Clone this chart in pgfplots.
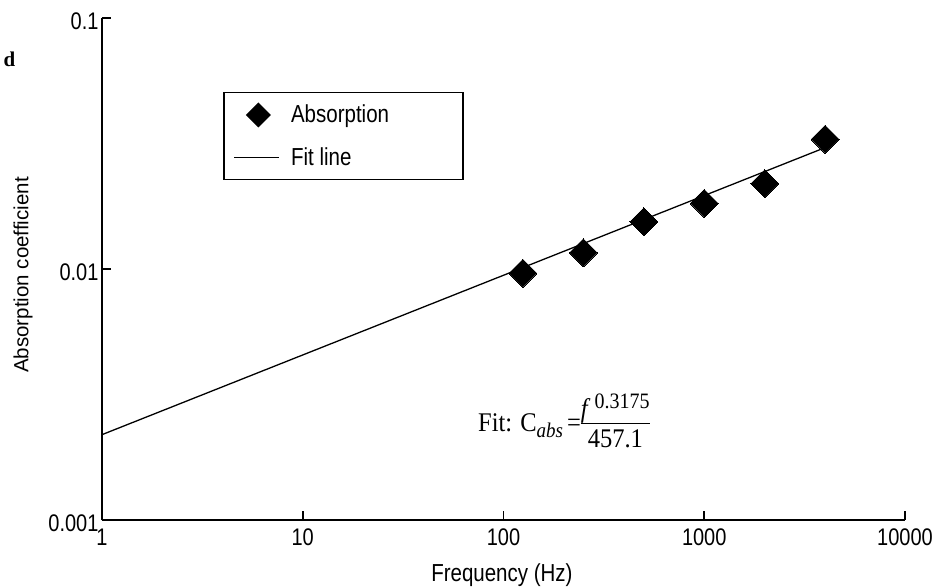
\documentclass[border=0pt]{standalone}
\usepackage{pgfplots}
\pgfplotsset{compat=1.18}
\usepackage{fontspec}
\setmainfont{Liberation Sans}
\newfontfamily\serifont{Liberation Serif}
\begin{document}
\begin{tikzpicture}
\useasboundingbox (-102pt,-68pt) rectangle (837pt,520pt);
\begin{axis}[
  at={(0pt,0pt)}, anchor=south west,
  scale only axis, width=803pt, height=502pt,
  xmode=log, ymode=log,
  xmin=1, xmax=10000, ymin=0.001, ymax=0.1,
  axis x line*=bottom, axis y line*=left,
  axis line style={line width=1.8pt},
  xminorticks=false, yminorticks=false,
  xtick={1,10,100,1000,10000}, xticklabels={1,10,100,1000,10000},
  ytick={0.001,0.01,0.1}, yticklabels={0.001,0.01,0.1},
  /pgf/number format/assume math mode=true,
  tick align=inside, major tick length=9pt,
  every tick/.style={line width=1.8pt, black},
  ticklabel style={font=\fontsize{20}{24}\selectfont, yscale=1.2},
  xticklabel style={yshift=-4pt},
  yticklabel style={yshift=-3pt},
  label style={font=\fontsize{20.5}{24}\selectfont},
  xlabel={Frequency (Hz)},
  xlabel style={at={(axis description cs:0.498,0)}, anchor=center, yshift=-55pt, yscale=1.2},
  ylabel={Absorption coefficient},
  ylabel style={at={(axis description cs:-0.0984,0.488)}, anchor=center},
  legend style={at={(0.1507,0.8526)}, anchor=north west, draw=black, line width=1.5pt,
    font=\fontsize{20.5}{24}\selectfont, inner xsep=10pt, inner ysep=10pt, row sep=18pt,
    nodes={yscale=1.2}},
  legend cell align=left,
]
\addplot[only marks, mark=square*, mark size=9.9pt, mark options={rotate=45, fill=black, draw=black, line width=0pt},
  legend image code/.code={\draw[mark=square*, mark size=8.1pt, mark options={rotate=45, fill=black, draw=black}, only marks] plot coordinates {(24pt,0pt)};}]
coordinates {(125,0.00962) (250,0.01161) (500,0.01543) (1000,0.01827) (2000,0.02188) (4000,0.03288)};
\addlegendentry{\hspace*{9pt}\makebox[160pt][l]{Absorption}}
\addplot[black, line width=1.3pt, no marks,
  legend image code/.code={\draw[black, line width=1.3pt] (0pt,0pt) -- (45pt,0pt);}]
coordinates {(1,0.002188) (4000,0.03046)};
\addlegendentry{\hspace*{9pt}Fit line}
\node[font=\serifont\fontsize{24.5}{27}\selectfont, anchor=center, yscale=1.1] at (axis cs:200,0.00239)
  {Fit: C{\fontsize{19}{21}\selectfont\raisebox{-5pt}{\textit{abs}}}\,=\setlength{\arrayrulewidth}{1.2pt}\begin{tabular}{@{}c@{}}\textit{f}\,\raisebox{8pt}{\fontsize{20}{22}\selectfont 0.3175}\\[-3pt]\hline\noalign{\vskip 2pt}457.1\end{tabular}};
\end{axis}
\node[anchor=base west, font=\serifont\bfseries\fontsize{21}{24}\selectfont] at (-102pt,453pt) {d};
\end{tikzpicture}
\end{document}
